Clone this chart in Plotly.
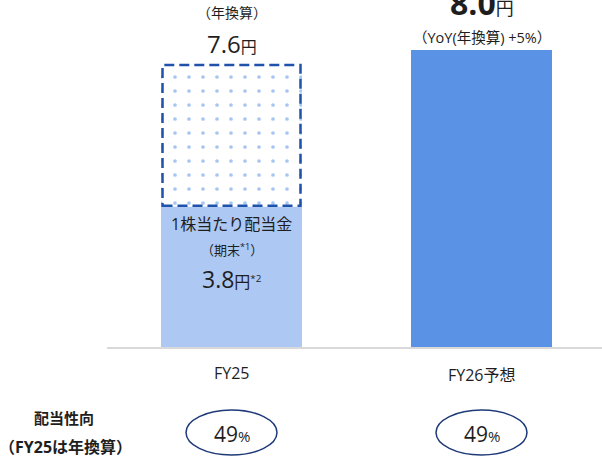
import plotly.graph_objects as go

# ---- data ----
categories = ["FY25", "FY26予想"]
dividend_period_end = [3.8, None]        # FY25 actual (period-end)
dividend_annualized = [7.6, 8.0]         # FY25 annualized / FY26 forecast
payout_ratio = [49, 49]                  # %
top_notes = ["（年換算）", "（YoY(年換算) +5%）"]

# ---- style ----
LIGHT = "#ADC8F2"
BLUE = "#5A92E6"
DASH = "#1F52AA"
NAVY = "#1F3A78"
TXT = "#1E1E1E"
FONT = "Open Sans, Noto Sans CJK JP"

W = 602
H = 460
PX_PER_X = 250.0          # pixels per category step
PX_PER_Y = 37.25          # pixels per yen
X0_PX = 231.5             # pixel of first category
BASE_PX = 348.0           # pixel of y=0
bar_w = 141 / PX_PER_X

xr = [-X0_PX / PX_PER_X, (W - X0_PX) / PX_PER_X]
yr = [-(H - BASE_PX) / PX_PER_Y, BASE_PX / PX_PER_Y]

def ypx(p):
    return (BASE_PX - p) / PX_PER_Y

def xpx(p):
    return (p - X0_PX) / PX_PER_X

xs = list(range(len(categories)))

fig = go.Figure()

# FY25 period-end solid bar
fig.add_trace(go.Bar(x=[xs[0]], y=[dividend_period_end[0]], width=bar_w,
                     marker=dict(color=LIGHT, line=dict(width=0)),
                     hoverinfo="skip", showlegend=False))
# FY25 annualized remainder (dotted)
fig.add_trace(go.Bar(x=[xs[0]], y=[dividend_annualized[0] - dividend_period_end[0]],
                     base=[dividend_period_end[0]], width=bar_w,
                     marker=dict(color="white", line=dict(width=0),
                                 pattern=dict(shape=".", fgcolor="#4F8BE3", bgcolor="white",
                                              size=14, solidity=0.055, fillmode="overlay")),
                     hoverinfo="skip", showlegend=False))
# FY26 forecast bar
fig.add_trace(go.Bar(x=[xs[1]], y=[dividend_annualized[1]], width=bar_w,
                     marker=dict(color=BLUE, line=dict(width=0)),
                     hoverinfo="skip", showlegend=False))

shapes = []
# dashed outline of annualized part
shapes.append(dict(type="rect", xref="x", yref="y",
                   x0=xs[0] - bar_w / 2 + 0.006, x1=xs[0] + bar_w / 2 - 0.006,
                   y0=dividend_period_end[0] + 0.02, y1=dividend_annualized[0],
                   line=dict(color=DASH, width=2.5, dash="10px,5px"),
                   fillcolor="rgba(0,0,0,0)"))
# baseline
shapes.append(dict(type="line", xref="x", yref="y", x0=xpx(107), x1=xr[1], y0=0, y1=0,
                   line=dict(color="#D9D9D9", width=2)))
# payout ellipses
ell_w = 91 / PX_PER_X
ell_h = 45 / PX_PER_Y
ell_c = ypx(432.5)
for x in xs:
    shapes.append(dict(type="circle", xref="x", yref="y",
                       x0=x - ell_w / 2, x1=x + ell_w / 2,
                       y0=ell_c - ell_h / 2, y1=ell_c + ell_h / 2,
                       line=dict(color=NAVY, width=1.5), fillcolor="rgba(0,0,0,0)"))

ann = []
def add(x, y, text, size=13, color=TXT, xanchor="center"):
    ann.append(dict(x=x, y=y, xref="x", yref="y", text=text, showarrow=False,
                    xanchor=xanchor, yanchor="middle",
                    font=dict(family=FONT, size=size, color=color)))

# FY25 labels above dotted box
add(xs[0], dividend_annualized[0] + ypx(15) - ypx(67), top_notes[0], size=14)
add(xs[0], dividend_annualized[0] + ypx(46) - ypx(67),
    f'<span style="font-size:24px">{dividend_annualized[0]:.1f}</span>'
    f'<span style="font-size:16px">円</span>', size=24)
# FY26 labels
add(xs[1], dividend_annualized[1] + ypx(2) - ypx(50),
    f'<b><span style="font-size:32px">{dividend_annualized[1]:.1f}</span></b>'
    f'<span style="font-size:18px">円</span>', size=32)
add(xs[1], dividend_annualized[1] + ypx(37) - ypx(50), top_notes[1], size=14.5)
# Inside FY25 bar
add(xs[0], ypx(224), "1株当たり配当金", size=16)
add(xs[0], ypx(249), "（期末<sup>*1</sup>）", size=13)
add(xs[0], ypx(279),
    f'<span style="font-size:23px">{dividend_period_end[0]:.1f}</span>'
    f'<span style="font-size:16px">円</span><span style="font-size:14px"><sup>*2</sup></span>',
    size=23)
# category labels
add(xs[0], ypx(373), categories[0], size=16)
add(xs[1], ypx(375), categories[1], size=16)
# payout ratio
add(xpx(64), ypx(418), "<b>配当性向</b>", size=15)
add(xpx(65), ypx(447), "<b>（FY25は年換算）</b>", size=16)
for x, v in zip(xs, payout_ratio):
    add(x, ypx(434), f'<span style="font-size:21px">{v}</span>'
                     f'<span style="font-size:15px">%</span>', size=21)

fig.update_layout(
    width=W, height=H,
    margin=dict(l=0, r=0, t=0, b=0),
    paper_bgcolor="white", plot_bgcolor="white",
    barmode="overlay",
    showlegend=False,
    xaxis=dict(range=xr, visible=False, fixedrange=True),
    yaxis=dict(range=yr, visible=False, fixedrange=True),
    shapes=shapes, annotations=ann,
)

fig.write_html("out.html")
